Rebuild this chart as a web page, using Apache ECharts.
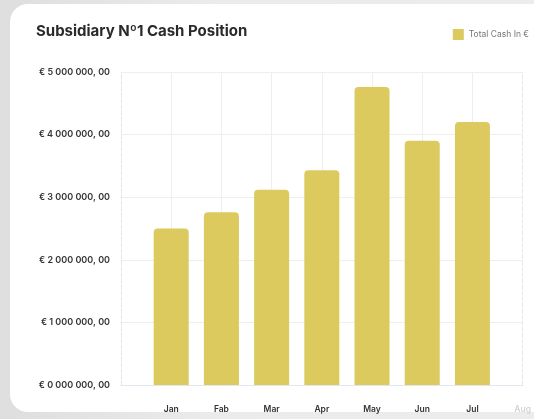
<!DOCTYPE html>
<html>
<head>
<meta charset="utf-8">
<script src="https://cdn.jsdelivr.net/npm/echarts@6/dist/echarts.min.js"></script>
<style>
  html, body {
    margin: 0;
    padding: 0;
    width: 534px;
    height: 419px;
    overflow: hidden;
    background: linear-gradient(90deg, #dedede 0%, #ebebeb 40%, #ececec 100%);
  }
  .card {
    position: absolute;
    left: 10px;
    top: 4px;
    width: 560px;
    height: 408px;
    background: #ffffff;
    border-radius: 18px;
  }
  #chart {
    position: absolute;
    left: 0;
    top: 0;
    width: 534px;
    height: 419px;
  }
</style>
</head>
<body>
<div class="card"></div>
<div id="chart"></div>
<script>
  // first and last slots are the empty lead-in and the faded "Aug"
  const months = ["", "Jan", "Fab", "Mar", "Apr", "May", "Jun", "Jul", "Aug"];
  const cashValues = [null, 2500000, 2760000, 3120000, 3430000, 4760000, 3900000, 4200000, null];
  const yTicks = [0, 1000000, 2000000, 3000000, 4000000, 5000000];

  const fontFamily = "Inter, 'Noto Sans', sans-serif";
  const barColor = "#DCCA5F";

  function formatEuro(value) {
    const s = String(Math.round(value)).padStart(7, "0");
    return `€ ${s[0]} ${s.slice(1, 4)} ${s.slice(4)}, 00`;
  }

  const chart = echarts.init(document.getElementById("chart"));

  const option = {
    backgroundColor: "transparent",
    animation: false,
    textStyle: { fontFamily },
    title: {
      text: "Subsidiary Nº1 Cash Position",
      left: 31,
      top: 19,
      textStyle: {
        fontFamily,
        fontSize: 15,
        fontWeight: 700,
        color: "#2a2a2a",
      },
    },
    legend: {
      right: 0,
      top: 24,
      itemWidth: 11,
      itemHeight: 11,
      itemGap: 6,
      icon: "rect",
      textStyle: { fontFamily, fontSize: 8.5, color: "#777" },
      data: ["Total Cash In €"],
    },
    grid: {
      left: 121,
      right: 5,
      top: 72,
      bottom: 34,
    },
    xAxis: {
      type: "category",
      data: months.map((m, i) =>
        i === months.length - 1 ? { value: m, textStyle: { color: "#d4d4d4" } } : m
      ),
      boundaryGap: false,
      axisLine: { lineStyle: { color: "#e3e6ee" } },
      axisTick: { show: false },
      axisLabel: {
        color: "#333",
        fontSize: 8.5,
        fontWeight: 600,
        margin: 20,
      },
      splitLine: {
        show: true,
        interval: (index) => index !== 0 && index !== months.length - 1,
        lineStyle: { color: "#eeeeee" },
      },
    },
    yAxis: [
      {
        type: "value",
        min: yTicks[0],
        max: yTicks[yTicks.length - 1],
        interval: yTicks[1] - yTicks[0],
        axisLine: { show: true, lineStyle: { color: "#e4e4e4", type: "dashed" } },
        axisTick: { show: false },
        axisLabel: {
          color: "#333",
          fontSize: 9,
          fontWeight: 600,
          margin: 11,
          formatter: formatEuro,
        },
        splitLine: { lineStyle: { color: "#eeeeee" } },
      },
      {
        type: "value",
        position: "right",
        min: yTicks[0],
        max: yTicks[yTicks.length - 1],
        interval: yTicks[1] - yTicks[0],
        axisLine: { show: true, lineStyle: { color: "#e8e8e8", type: "dashed" } },
        axisTick: { show: false },
        axisLabel: { show: false },
        splitLine: { show: false },
      },
    ],
    series: [
      {
        name: "Total Cash In €",
        type: "bar",
        data: cashValues,
        barWidth: 35,
        itemStyle: {
          color: barColor,
          borderRadius: [4, 4, 0, 0],
        },
      },
    ],
  };

  chart.setOption(option);
</script>
</body>
</html>
